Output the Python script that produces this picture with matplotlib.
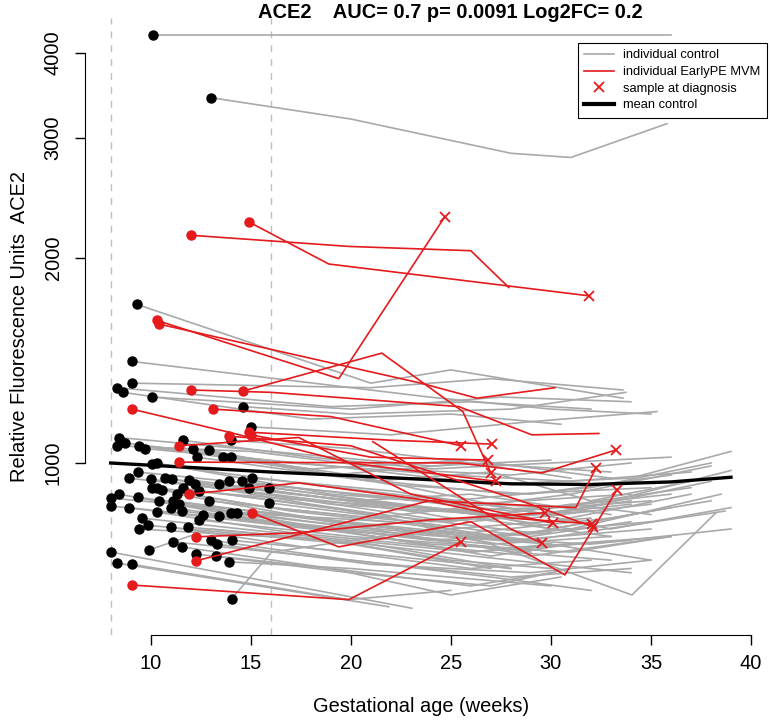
import matplotlib
matplotlib.use("Agg")
import matplotlib.pyplot as plt
from matplotlib.lines import Line2D

plt.rcParams["font.family"] = ["Liberation Sans", "DejaVu Sans"]

# gestational age (weeks) and RFU per control subject
control_weeks = [
    [10.1, 36.0], [13.0, 20.0, 28.0, 31.0, 35.8],
    [9.3, 21.0, 25.0, 33.6], [9.05, 23.9, 30.0, 35.0], [9.05, 21.0, 27.0, 33.6],
    [8.3, 19.0, 26.0, 32.0], [8.6, 18.0, 25.0, 30.5], [10.05, 20.0, 27.5, 34.0],
    [14.6, 20.0, 28.0, 33.75], [15.0, 22.0, 29.0, 35.3],
    [14.0, 20.0, 26.0, 31.0], [11.6, 18.0, 24.0, 30.0, 36.0], [8.4, 16.0, 24.0, 30.0],
    [8.3, 15.0, 22.0, 28.0, 34.0], [8.7, 17.0, 25.0, 31.0, 37.0], [9.4, 18.0, 26.0, 33.0],
    [9.7, 19.0, 27.0, 34.0, 39.0], [12.1, 20.0, 28.0, 35.0], [12.3, 21.0, 27.0, 32.0, 37.0],
    [12.9, 19.0, 26.0, 33.0], [13.6, 22.0, 29.0, 36.0], [14.0, 20.0, 27.0, 31.0, 38.0],
    [10.05, 18.0, 25.0, 32.0, 38.0], [10.3, 19.0, 26.0, 34.0],
    [9.35, 17.0, 24.0, 30.0, 36.0], [8.9, 16.0, 23.0, 30.0, 37.0], [10.0, 18.0, 25.0, 31.0, 35.0],
    [10.7, 19.0, 27.0, 33.0, 39.0], [11.05, 17.0, 24.0, 29.0, 35.0], [11.9, 20.0, 28.0, 34.0],
    [12.2, 18.0, 24.0, 32.0], [12.4, 19.0, 26.0, 33.0, 38.0], [10.05, 17.0, 25.0, 32.0],
    [10.3, 18.0, 26.0, 30.0, 36.0], [10.55, 16.0, 23.0, 29.0, 34.0], [11.6, 20.0, 29.0, 35.0],
    [11.3, 19.0, 26.0, 31.0], [12.9, 21.0, 27.0, 33.0, 39.0], [13.4, 20.0, 26.0, 33.0],
    [13.9, 22.0, 30.0, 37.0], [14.55, 20.0, 28.0, 35.0], [14.9, 21.0, 26.0, 34.0],
    [15.05, 22.0, 30.0, 38.0], [15.9, 24.0, 31.0, 38.5], [15.9, 22.0, 27.0, 34.05, 38.25],
    [8.0, 17.0, 25.0, 32.0, 39.0], [8.0, 18.0, 26.0, 33.0], [8.4, 16.0, 24.0, 30.0],
    [9.35, 18.0, 27.0, 35.0], [8.9, 17.0, 24.0, 31.0, 36.0],
    [10.4, 19.0, 27.0, 33.0], [11.1, 19.0, 28.0, 35.0], [11.4, 18.0, 25.0, 30.0],
    [11.0, 20.0, 26.0, 34.0], [10.3, 17.0, 23.0, 29.0, 36.0], [11.55, 19.0, 27.0, 31.0],
    [9.55, 18.0, 26.0, 30.0], [12.4, 20.0, 28.0, 36.0], [12.6, 21.0, 29.0],
    [13.4, 22.0, 30.0, 35.0], [14.0, 21.0, 28.0, 33.0], [14.3, 22.0, 29.0, 38.7],
    [9.4, 19.0, 28.0, 34.0], [9.85, 20.0, 27.0], [11.0, 18.0, 26.0, 32.0], [11.85, 19.0, 25.0, 30.0],
    [9.9, 13.0, 21.0, 28.0], [11.1, 20.0, 28.0, 34.0], [11.55, 19.0, 26.0, 30.0],
    [13.0, 20.0, 27.0, 32.0], [13.3, 21.0, 29.0, 35.0], [14.05, 22.0, 28.0],
    [12.25, 20.0, 27.0, 31.0], [13.25, 19.0, 25.0, 30.5], [13.9, 20.0, 30.0],
    [8.0, 23.05], [8.3, 21.9], [9.05, 19.9, 25.0], [14.05, 16.05, 24.0, 30.0],
]
control_values = [
    [4250, 4250], [3440, 3200, 2850, 2810, 3150],
    [1710, 1310, 1370, 1245], [1410, 1250, 1200, 1180], [1310, 1290, 1330, 1280],
    [1290, 1210, 1230, 1200], [1270, 1160, 1180, 1140], [1250, 1200, 1250, 1230],
    [1210, 1180, 1200, 1270], [1130, 1100, 1150, 1190],
    [1080, 1050, 1000, 950], [1080, 1020, 980, 1000, 1020], [1090, 1040, 990, 1010],
    [1060, 1040, 980, 960, 1000], [1070, 1000, 960, 940, 970], [1060, 980, 1010, 950],
    [1050, 990, 930, 950, 1040], [1050, 950, 900, 920], [1020, 940, 970, 880, 940],
    [1045, 960, 1000, 970], [1020, 930, 900, 960], [1020, 960, 870, 900, 990],
    [997, 930, 880, 920, 1000], [1000, 900, 870, 900],
    [970, 920, 880, 860, 900], [950, 900, 850, 860, 920], [947, 880, 820, 870, 840],
    [950, 870, 840, 880, 975], [947, 900, 860, 830, 870], [945, 880, 830, 880],
    [930, 870, 820, 850], [910, 860, 790, 830, 880], [920, 850, 800, 830],
    [918, 880, 850, 800, 860], [912, 860, 820, 780, 820], [918, 850, 790, 850],
    [900, 820, 780, 800], [880, 830, 870, 800, 860], [930, 880, 900, 840],
    [940, 870, 820, 900], [940, 900, 850, 880], [920, 870, 820, 870],
    [950, 910, 840, 940], [920, 860, 800, 900], [874, 830, 760, 640, 845],
    [888, 840, 780, 760, 800], [865, 800, 830, 780], [900, 820, 770, 790],
    [890, 830, 780, 820], [860, 810, 760, 740, 780],
    [880, 800, 760, 780], [880, 820, 770, 800], [870, 820, 780, 740],
    [860, 790, 740, 770], [847, 790, 760, 730, 780], [850, 800, 730, 760],
    [830, 780, 740, 760], [825, 780, 750, 780], [840, 790, 740],
    [835, 790, 760, 720], [845, 800, 740, 720], [845, 820, 770, 850],
    [800, 770, 720, 690], [810, 760, 700], [805, 750, 700, 720], [805, 770, 720, 700],
    [745, 800, 760, 700], [766, 720, 680, 700], [753, 700, 660, 690],
    [770, 720, 680, 650], [760, 710, 690, 720], [770, 730, 700],
    [735, 690, 660, 700], [730, 700, 640, 680], [716, 700, 660],
    [740, 612], [713, 615], [710, 630, 650], [632, 740, 800, 760],
]

# EarlyPE MVM cases; last sample is the one at diagnosis when flagged
case_weeks = [
    [12.0, 19.9, 26.0, 27.9], [14.9, 18.9, 31.9], [10.3, 19.4, 24.7],
    [10.4, 23.5, 26.3, 30.2], [14.6, 21.55, 25.6, 27.0], [12.0, 16.0, 25.4, 29.05, 32.4],
    [9.05, 13.9, 20.0, 27.25], [13.1, 19.0, 25.5], [14.9, 22.0, 27.05],
    [15.0, 21.0, 26.85], [11.4, 17.4, 23.0, 30.1], [11.4, 25.4, 29.55, 33.25],
    [11.9, 17.4, 24.0, 31.25, 32.25], [15.05, 19.4, 26.0, 30.7, 33.3], [12.25, 17.4, 23.9, 29.7],
    [12.25, 23.9, 28.0, 32.05], [9.05, 19.9, 25.5], [13.9, 20.0, 28.5, 32.1],
    [21.1, 28.0, 29.55],
]
case_values = [
    [2160, 2080, 2050, 1810], [2260, 1960, 1760], [1620, 1330, 2300],
    [1600, 1310, 1245, 1290], [1275, 1450, 1190, 967], [1280, 1270, 1210, 1100, 1105],
    [1200, 1110, 1000, 940], [1200, 1170, 1060], [1110, 1080, 1066],
    [1100, 1020, 1010], [1060, 1090, 900, 816], [1003, 1000, 967, 1045],
    [900, 935, 880, 860, 983], [845, 753, 820, 685, 913], [779, 790, 825, 845],
    [718, 880, 830, 814], [662, 630, 766], [1095, 1060, 880, 806],
    [1075, 800, 763],
]
case_diagnosed = [False, True, True, False, True, False, True, True, True, True,
                  True, True, True, True, True, True, True, True, True]

mean_weeks = [8, 12, 16, 20, 24, 28, 32, 36, 39]
mean_values = [1000, 985, 970, 958, 945, 932, 930, 938, 953]

GRAY = "#A9A9A9"
RED = "#E41A1C"

fig = plt.figure(figsize=(7.71, 7.27), dpi=100)
ax = fig.add_axes([85 / 771, 92 / 727, 672 / 771, 617 / 727])

for w, v in zip(control_weeks, control_values):
    ax.plot(w, v, color=GRAY, lw=1.2, zorder=2)
for w, v in zip(control_weeks, control_values):
    if w[0] <= 16:
        ax.plot(w[0], v[0], "o", color="black", ms=6.5, zorder=3)

ax.plot(mean_weeks, mean_values, color="black", lw=2.4, zorder=4)

for w, v, d in zip(case_weeks, case_values, case_diagnosed):
    ax.plot(w, v, color=RED, lw=1.2, zorder=5)
    if w[0] <= 16:
        ax.plot(w[0], v[0], "o", color=RED, ms=6.5, zorder=6)
    if d:
        ax.plot(w[-1], v[-1], "x", color=RED, ms=7.5, mew=1.3, zorder=6)

for xv in (8, 16):
    ax.axvline(xv, color="#BEBEBE", lw=1.0, ls=(0, (5, 5)), zorder=1)

ax.set_yscale("log")
ax.set_xlim(6.72, 40.3)
ax.set_ylim(559, 4503)
ax.set_xticks([10, 15, 20, 25, 30, 35, 40])
ax.set_yticks([1000, 2000, 3000, 4000])
ax.set_yticklabels(["1000", "2000", "3000", "4000"], rotation=90, va="center")
ax.minorticks_off()
ax.tick_params(axis="both", labelsize=14.4, length=7, width=1, pad=7)
ax.tick_params(axis="y", pad=9)
for s in ("top", "right"):
    ax.spines[s].set_visible(False)
ax.spines["left"].set_bounds(1000, 4000)
ax.spines["bottom"].set_bounds(10, 40)

fig.text(421 / 771, 1 - 706 / 727, "Gestational age (weeks)", fontsize=14.4,
         ha="center", va="center")
fig.text(20 / 771, 1 - 327 / 727, "Relative Fluorescence Units  ACE2", fontsize=14.4,
         ha="center", va="center", rotation=90)
fig.text(450 / 771, 1 - 13 / 727, "ACE2    AUC= 0.7 p= 0.0091 Log2FC= 0.2",
         fontsize=14.4, fontweight="bold", ha="center", va="center")

handles = [
    Line2D([], [], color=GRAY, lw=1.2),
    Line2D([], [], color=RED, lw=1.2),
    Line2D([], [], color=RED, lw=0, marker="x", ms=6.5, mew=1.3),
    Line2D([], [], color="black", lw=3),
]
labels = ["individual control", "individual EarlyPE MVM", "sample at diagnosis", "mean control"]
leg = fig.legend(handles, labels, loc="upper left", bbox_to_anchor=(578 / 771, 1 - 43 / 727),
                 fontsize=9.3, frameon=True, fancybox=False, framealpha=1,
                 edgecolor="black", borderpad=0.5, labelspacing=0.35, handlelength=2.3,
                 handletextpad=0.7, borderaxespad=0)
leg.get_frame().set_linewidth(0.8)

fig.savefig("out.png", dpi=100)
